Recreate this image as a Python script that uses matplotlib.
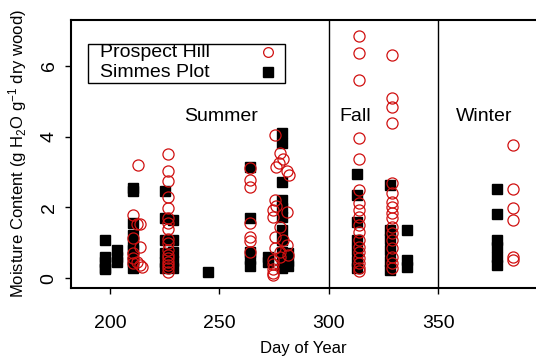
import numpy as np
import matplotlib
matplotlib.use('Agg')
import matplotlib.pyplot as plt
from matplotlib.patches import Rectangle

plt.rcParams['font.family'] = ['Liberation Sans', 'DejaVu Sans']
plt.rcParams['mathtext.default'] = 'regular'

# Simmes Plot (filled squares): day of year and moisture content
simmes_days = [197.7] * 5 + [203] * 3 + [210.4] * 9 + [225.2] * 6 + [228.9] * 5 + [245] \
    + [264] * 5 + [272.4] * 2 + [278.5] * 11 + [281.5] * 3 \
    + [313.1] * 7 + [328] * 6 + [335.7] * 3 + [376.8] * 6
simmes_vals = [1.08, 0.6, 0.45, 0.3, 0.25,
               0.8, 0.6, 0.45,
               2.55, 2.45, 1.57, 1.22, 0.94, 0.8, 0.6, 0.45, 0.3,
               2.45, 1.7, 1.08, 0.7, 0.47, 0.3,
               1.65, 1.08, 0.75, 0.5, 0.3,
               0.19,
               3.15, 1.69, 0.75, 0.55, 0.35,
               0.6, 0.45,
               4.09, 3.81, 2.73, 2.21, 1.98, 1.74, 1.36, 1.08, 0.75, 0.56, 0.28,
               0.71, 0.5, 0.35,
               2.94, 2.35, 1.6, 1.08, 0.8, 0.5, 0.3,
               2.63, 1.36, 1.1, 0.8, 0.5, 0.24,
               1.36, 0.52, 0.33,
               2.51, 1.81, 1.08, 0.89, 0.61, 0.38]

# Prospect Hill (open circles)
prospect_days = [210.7] * 5 + [212.2] * 2 + [213] + [213.7] * 3 + [214.5] \
    + [226.7] * 17 + [264] * 7 + [274.7] * 7 + [275.5] * 4 + [276] * 2 + [277.3] \
    + [277.7] * 4 + [279.3] * 2 + [280.8] * 3 + [281.5] + [281.7] \
    + [313.9] * 18 + [328.8] * 17 + [384] * 6
prospect_vals = [1.78, 1.13, 0.71, 0.57, 0.43,
                 1.53, 0.47,
                 3.2,
                 1.53, 0.89, 0.38,
                 0.33,
                 3.51, 3.03, 2.75, 2.29, 1.98, 1.69, 1.55, 1.38, 1.1, 0.99, 0.8, 0.65,
                 0.56, 0.45, 0.38, 0.28, 0.19,
                 3.12, 2.77, 2.59, 1.55, 1.17, 1.06, 0.75,
                 1.93, 1.74, 0.52, 0.4, 0.25, 0.15, 0.1,
                 4.04, 2.21, 1.17, 0.85,
                 3.15, 2.05,
                 3.24,
                 3.53, 1.46, 0.75, 0.6,
                 3.36, 1.08,
                 3.04, 1.88, 0.94,
                 0.66,
                 2.92,
                 6.84, 6.35, 5.6, 3.95, 3.36, 2.49, 2.12, 1.93, 1.74, 1.5, 1.32, 1.08,
                 0.89, 0.75, 0.56, 0.42, 0.28, 0.2,
                 6.3, 5.08, 4.83, 4.37, 2.68, 2.4, 2.16, 2.02, 1.83, 1.69, 1.46, 1.27,
                 1.08, 0.85, 0.61, 0.42, 0.28,
                 3.76, 2.51, 1.98, 1.65, 0.61, 0.52]

season_names = ['Summer', 'Fall', 'Winter']
season_pos = [250.8, 311.9, 370.8]
season_breaks = [300, 350]

red = '#d01010'

fig = plt.figure(figsize=(5.36, 3.6), dpi=100)
ax = fig.add_axes([70.8 / 536, 1 - 287.5 / 360, 1 - 70.8 / 536, 267.5 / 360])

ax.plot(simmes_days, simmes_vals, 's', color='black', markersize=7.3, linestyle='none')
ax.plot(prospect_days, prospect_vals, 'o', markerfacecolor='none', markeredgecolor=red,
        markeredgewidth=0.9, markersize=8, linestyle='none')

for b in season_breaks:
    ax.axvline(b, color='black', lw=1)
for name, xpos in zip(season_names, season_pos):
    ax.text(xpos, 4.57, name, ha='center', va='center', fontsize=14)

ax.set_xlim(182.1, 394.7)
ax.set_ylim(-0.26, 7.29)
ax.set_xticks([200, 250, 300, 350])
ax.set_yticks([0, 2, 4, 6])
ax.set_yticklabels(['0', '2', '4', '6'], rotation=90, va='center')
ax.tick_params(labelsize=14, length=4.5, width=1, pad=5)
ax.tick_params(axis='x', pad=15)
ax.spines['right'].set_visible(False)
for s in ['left', 'bottom', 'top']:
    ax.spines[s].set_linewidth(1.5)

ax.set_xlabel('Day of Year', fontsize=12)
ax.set_ylabel(r'Moisture Content (g H$_2$O g$^{-1}$ dry wood)', fontsize=12)
ax.xaxis.set_label_coords(0.5, -0.2)
ax.yaxis.set_label_coords(-0.09, 0.5)

# legend box
ax.add_patch(Rectangle((0.037, 0.7645), 0.4235, 0.1455, transform=ax.transAxes,
                       fill=False, edgecolor='black', lw=1, clip_on=False))
ax.text(0.0628, 0.880, 'Prospect Hill', transform=ax.transAxes, fontsize=14, va='center')
ax.text(0.0628, 0.8056, 'Simmes Plot', transform=ax.transAxes, fontsize=14, va='center')
ax.plot([0.424], [0.880], 'o', transform=ax.transAxes, markerfacecolor='none',
        markeredgecolor=red, markeredgewidth=0.9, markersize=7)
ax.plot([0.424], [0.8056], 's', transform=ax.transAxes, color='black', markersize=6.5)

fig.savefig('out.png', dpi=100)
